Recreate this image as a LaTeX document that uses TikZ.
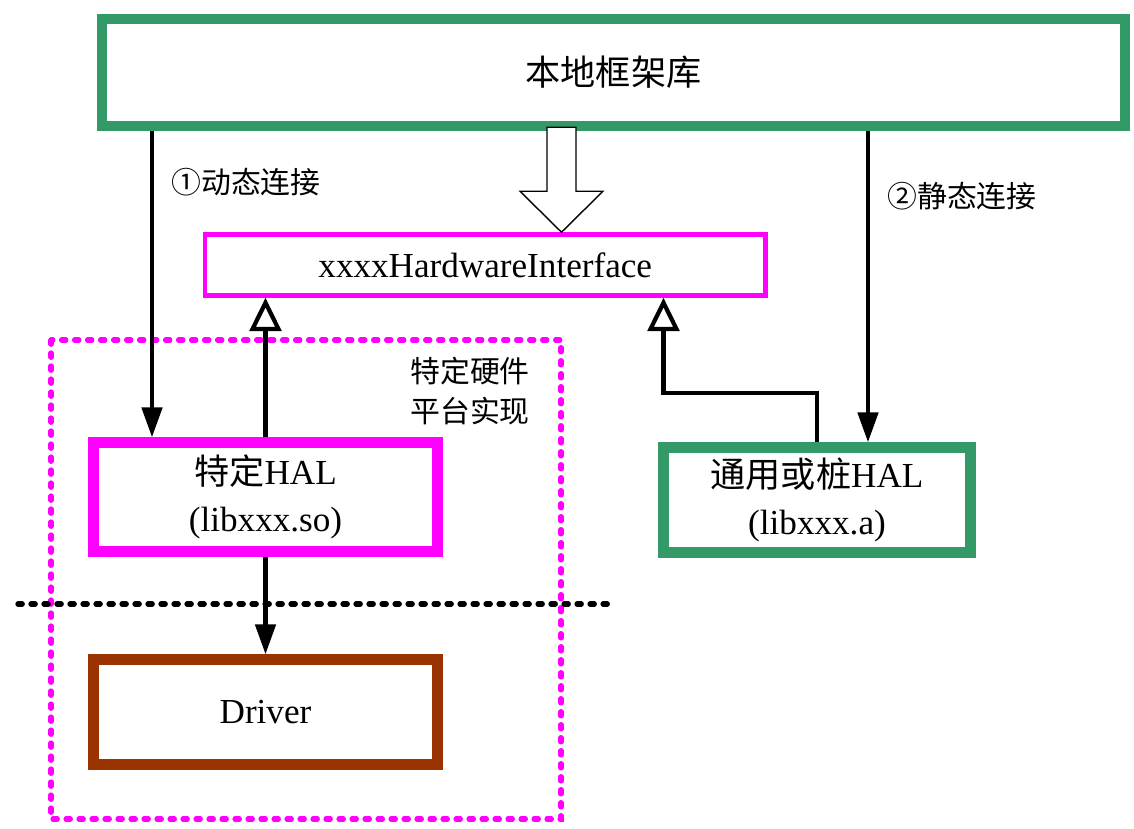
\documentclass[tikz,border=0pt]{standalone}
\usepackage{fontspec}
\setmainfont{Liberation Serif}
\newfontfamily\cjk{Noto Sans CJK SC}
\usetikzlibrary{arrows.meta, positioning, calc}
\definecolor{halgreen}{RGB}{51,153,102}
\definecolor{halpink}{RGB}{255,0,255}
\definecolor{drvbrown}{RGB}{153,51,0}
\tikzset{
	thickbox/.style={draw, line width=6pt, fill=white, inner sep=0pt, align=center, font=\fontsize{20}{27}\selectfont}
}
\tikzset{
	linkarrow/.style={line width=2.4pt, -{Triangle[length=17pt,width=11.5pt]}}
}
\tikzset{
	implarrow/.style={line width=2.4pt, -{Triangle[open,length=19pt,width=18pt]}}
}
\tikzset{
	labeltext/.style={font=\fontsize{17}{23}\selectfont\cjk, align=center}
}
\tikzset{
	dotline/.style={line width=3pt, line cap=round, dash pattern=on 2.4pt off 5pt}
}

\begin{document}
\begin{tikzpicture}[x=0.02cm, y=-0.02cm]
      \useasboundingbox (0,0) rectangle (1134,829);

      % framework on top, interface below it
      \node[thickbox, draw=halgreen, minimum width=20.46cm, minimum height=2.14cm] (framework) at (613.5,72.5) {\cjk 本地框架库};
      \node[draw=halpink, line width=2.6pt, inner sep=0pt, minimum width=11.21cm, minimum height=1.22cm,
            font=\fontsize{20}{27}\selectfont] (iface) at (485.25,265) {xxxxHardwareInterface};

      % platform specific region
      \draw[dotline, halpink] (51,340) rectangle (561,819);
      \node[labeltext] (platlabel) at (470,391) {特定硬件\\平台实现};

      % the two HAL builds and the driver
      \node[thickbox, draw=halpink, minimum width=6.88cm, minimum height=2.18cm] (spechal) at (265.5,497) {{\cjk 特定}HAL\\(libxxx.so)};
      \node[thickbox, draw=halgreen, minimum width=6.14cm, minimum height=2.1cm] (genhal) at (817,500) {{\cjk 通用或桩}HAL\\(libxxx.a)};
      \node[thickbox, draw=drvbrown, minimum width=6.88cm, minimum height=2.1cm] (driver) at (265.5,712) {Driver};

      % kernel / user space border
      \draw[dotline] (18,604) -- (615,604);

      % linking paths
      \coordinate (dynx) at (152,0);
      \coordinate (statx) at (868,0);
      \coordinate (implx) at (663.5,0);
      \draw[linkarrow] (framework.south -| dynx) -- (spechal.north -| dynx);
      \draw[linkarrow] (framework.south -| statx) -- (genhal.north -| statx);
      \node[labeltext] (dynlabel) at (246,182) {①动态连接};
      \node[labeltext] (statlabel) at (962,196) {②静态连接};

      % implementations of the interface
      \draw[implarrow] (spechal.north) -- (iface.south -| spechal.north);
      \draw[implarrow] (genhal.north) -- ++(0,-49) -| (iface.south -| implx);
      \draw[linkarrow] (spechal.south) -- (driver.north);

      % hollow block arrow from the framework
      \coordinate (blocktip) at (iface.north -| 561.5,0);
      \draw[fill=white, line width=0.8pt] (blocktip) -- ++(-41.5,-41) -- ++(27,0) -- ++(0,-64)
            -- ++(29,0) -- ++(0,64) -- ++(27,0) -- cycle;
    \end{tikzpicture}
\end{document}
